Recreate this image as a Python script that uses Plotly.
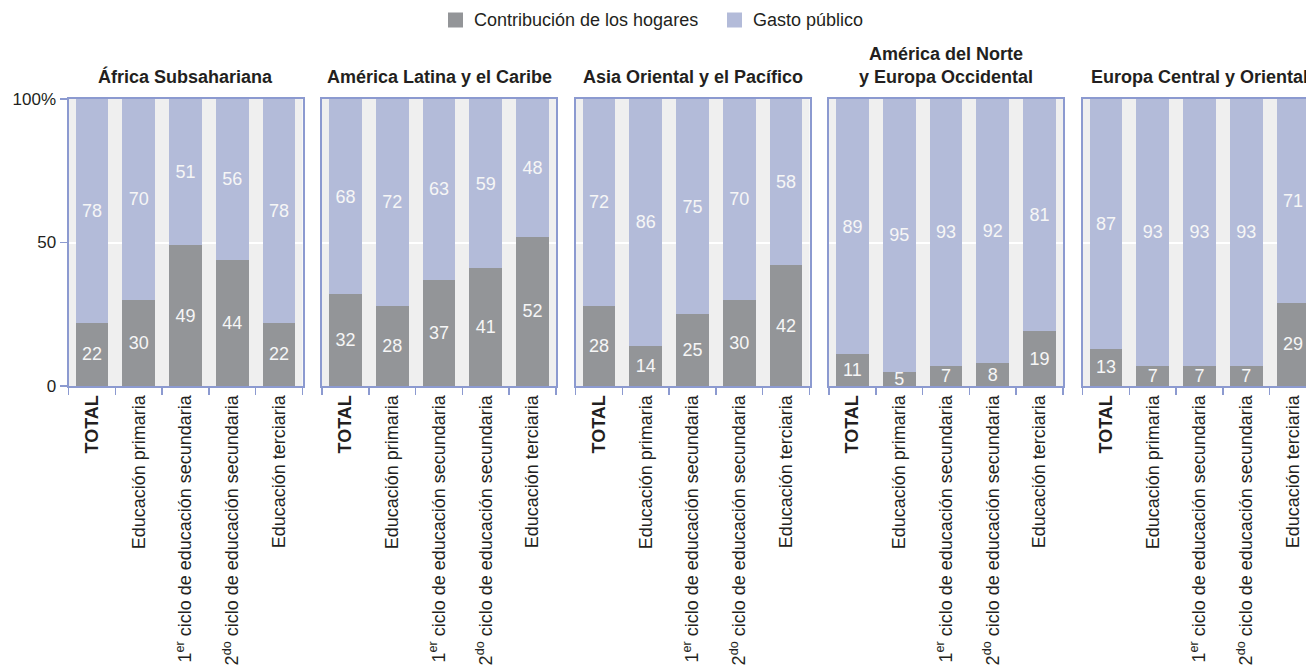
import plotly.graph_objects as go

# ---------------- data ----------------
regions = [
    "África Subsahariana",
    "América Latina y el Caribe",
    "Asia Oriental y el Pacífico",
    "América del Norte<br>y Europa Occidental",
    "Europa Central y Oriental",
]
levels = [
    "<b>TOTAL</b>",
    "Educación primaria",
    "1<sup>er</sup> ciclo de educación secundaria",
    "2<sup>do</sup> ciclo de educación secundaria",
    "Educación terciaria",
]
hogares_africa = [22, 30, 49, 44, 22]
hogares_latam = [32, 28, 37, 41, 52]
hogares_asia = [28, 14, 25, 30, 42]
hogares_naeo = [11, 5, 7, 8, 19]
hogares_eco = [13, 7, 7, 7, 29]

publico_africa = [78, 70, 51, 56, 78]
publico_latam = [68, 72, 63, 59, 48]
publico_asia = [72, 86, 75, 70, 58]
publico_naeo = [89, 95, 93, 92, 81]
publico_eco = [87, 93, 93, 93, 71]

series_names = ["Contribución de los hogares", "Gasto público"]
y_tickvals = [0, 50, 100]
y_ticktext = ["0", "50", "100%"]

hogares = [hogares_africa, hogares_latam, hogares_asia, hogares_naeo, hogares_eco]
publico = [publico_africa, publico_latam, publico_asia, publico_naeo, publico_eco]

# ---------------- style ----------------
W, H = 1306, 669
M_TOP, M_BOT = 99, 283
PLOT_H = H - M_TOP - M_BOT
FONT = "Liberation Sans, Arial, Helvetica, sans-serif"
TXT = "#231f20"
GRAY = "#939598"
BLUE = "#b3bbd9"
FRAME = "#8c9ad0"
BG = "#efefef"
LABEL = "#f6f6f6"

panel_left_px = [68.5, 322, 575.5, 829, 1082.5]
panel_w_px = 234.0


def py(pix):
    """pixel row from the top -> paper y"""
    return (H - M_BOT - pix) / PLOT_H


fig = go.Figure()
layout = dict(
    width=W, height=H,
    margin=dict(l=0, r=0, t=M_TOP, b=M_BOT),
    paper_bgcolor="white",
    plot_bgcolor=BG,
    barmode="stack",
    bargap=0.3,
    font=dict(family=FONT, size=18, color=TXT),
    showlegend=False,
    annotations=[],
    shapes=[],
)

for i in range(5):
    ax = "" if i == 0 else str(i + 1)
    left = panel_left_px[i]
    right = min(left + panel_w_px, W)
    rng_hi = -0.5 + 5 * (right - left) / panel_w_px
    for vals, name, col in ((hogares[i], series_names[0], GRAY),
                            (publico[i], series_names[1], BLUE)):
        fig.add_trace(go.Bar(
            x=levels, y=vals, name=name, marker_color=col, marker_line_width=0,
            text=[str(v) for v in vals], textposition="inside",
            insidetextanchor="middle", constraintext="none", textangle=0,
            textfont=dict(size=18, color=LABEL, family=FONT),
            xaxis="x" + ax, yaxis="y" + ax, hoverinfo="skip",
        ))
    layout["xaxis" + ax] = dict(
        domain=[left / W, right / W], anchor="y" + ax, type="category",
        range=[-0.5, rng_hi], showgrid=False, zeroline=False, automargin=False,
        showline=True, linecolor=FRAME, linewidth=2, mirror=True,
        ticks="outside", tickson="boundaries", ticklen=7, tickwidth=1.5, tickcolor=FRAME,
        tickangle=-90, tickfont=dict(size=18, color=TXT, family=FONT),
        categoryorder="array", categoryarray=levels,
    )
    layout["yaxis" + ax] = dict(
        domain=[0, 1], anchor="x" + ax, range=[0, 100], automargin=False,
        tickvals=y_tickvals, ticktext=y_ticktext,
        showgrid=True, gridcolor="white", gridwidth=2, zeroline=False,
        showline=True, linecolor=FRAME, linewidth=2, mirror=(i < 4),
        ticks="outside" if i == 0 else "", ticklen=7, tickwidth=1.5, tickcolor=FRAME,
        showticklabels=(i == 0), tickfont=dict(size=17, color=TXT, family=FONT),
    )
    center_frac = (panel_w_px / 2) / (right - left)
    layout["annotations"].append(dict(
        text="<b>" + regions[i] + "</b>", showarrow=False,
        xref="x" + ax + " domain", yref="y" + ax + " domain",
        x=center_frac, y=1, xanchor="center", yanchor="bottom", yshift=10,
        font=dict(size=18, color=TXT, family=FONT), align="center",
    ))

# legend drawn by hand (square swatches + labels)
legend_items = [(448, 472, GRAY, series_names[0]), (727, 751, BLUE, series_names[1])]
for sx, tx, col, name in legend_items:
    layout["shapes"].append(dict(
        type="rect", xref="paper", yref="paper",
        x0=sx / W, x1=(sx + 15) / W, y0=py(27.5), y1=py(12.5),
        fillcolor=col, line=dict(width=0),
    ))
    layout["annotations"].append(dict(
        text=name, showarrow=False, xref="paper", yref="paper",
        x=tx / W, y=py(20), xanchor="left", yanchor="middle",
        font=dict(size=18, color=TXT, family=FONT),
    ))

fig.update_layout(**layout)
fig.write_html(
    "out.html",
    config={"displayModeBar": False, "staticPlot": True},
    post_script="document.body.style.margin='0';document.body.style.padding='0';",
)
